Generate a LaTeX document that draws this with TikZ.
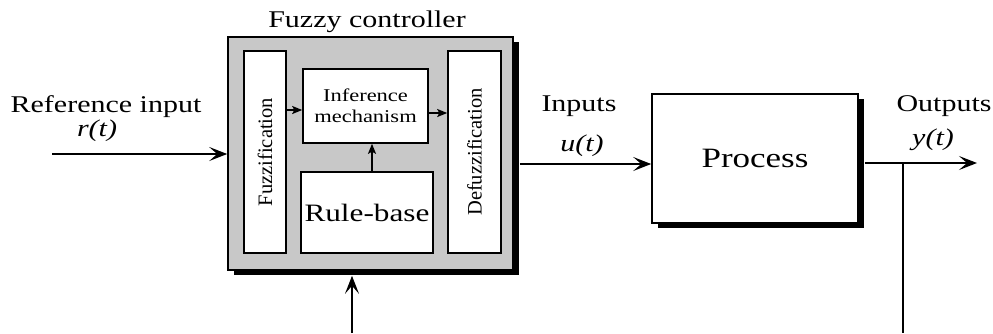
\documentclass[tikz,border=0pt]{standalone}
\usepackage{fontspec}
\setmainfont{Liberation Serif}[FakeStretch=1.25]
\newfontfamily\vfont{Liberation Serif}
\usetikzlibrary{arrows.meta}
\definecolor{ctrlgray}{HTML}{C8C8C8}
\tikzset{
  box/.style={draw, line width=1.6pt, fill=white, inner sep=0pt},
  lbl/.style={inner sep=0pt, font=\fontsize{24}{26}\selectfont},
  vlbl/.style={inner sep=0pt, rotate=90, font=\vfont\fontsize{20.5}{22}\selectfont},
  big/.style={-{Stealth[length=18pt,width=14pt,inset=8pt]}, line width=1.6pt},
  small/.style={-{Stealth[length=10pt,width=8pt,inset=2pt]}, line width=1.6pt},
  wire/.style={line width=1.6pt}
}
\begin{document}
\begin{tikzpicture}[x=1pt,y=-1pt]
\useasboundingbox (0,0) rectangle (993,333);
% shadows
\fill[black] (234,42) rectangle (519,275);
\fill[black] (658,99) rectangle (864,228);
% controller
\node[box, fill=ctrlgray, minimum width=285pt, minimum height=233pt] (ctrl) at (370.5,153.5) {};
\node[box, minimum width=42pt, minimum height=202pt] (fuzz) at (265,152) {};
\node[vlbl] (fuzzt) at (265,152) {Fuzzification};
\node[box, minimum width=125pt, minimum height=74pt, align=center, font=\fontsize{18}{21}\selectfont] (inf) at (365.5,106) {Inference\\mechanism};
\node[box, minimum width=132pt, minimum height=81pt, font=\fontsize{25}{27}\selectfont] (rule) at (367,212.5) {Rule-base};
\node[box, minimum width=53pt, minimum height=202pt] (defuzz) at (474.5,152) {};
\node[vlbl] (defuzzt) at (474.5,152) {Defuzzification};
\node[lbl] (title) at (367,22) {Fuzzy controller};
% process
\node[box, minimum width=206pt, minimum height=129pt, font=\fontsize{28}{30}\selectfont] (proc) at (755,158.5) {Process};
% labels
\node[lbl] (refl) at (106,107) {Reference input};
\node[lbl] (rt) at (97,131) {\textit{r(t)}};
\node[lbl] (inl) at (579,106) {Inputs};
\node[lbl] (ut) at (582,146) {\textit{u(t)}};
\node[lbl] (outl) at (944,106) {Outputs};
\node[lbl] (yt) at (933,140) {\textit{y(t)}};
% coordinates
\coordinate (rin) at (52,154);
\coordinate (fbin) at (352,333);
\coordinate (yout) at (977,163);
\coordinate (tap) at (903,163);
\coordinate (tapend) at (903,333);
% internal arrows
\draw[small] (fuzz.east |- 0,110) -- (inf.west |- 0,110);
\draw[small] (inf.east |- 0,113) -- (defuzz.west |- 0,113);
\draw[small] (rule.north -| 372,0) -- (inf.south -| 372,0);
% external arrows
\draw[big] (rin) -- (ctrl.west |- rin);
\draw[big] (fbin) -- ([yshift=-5pt]ctrl.south -| fbin);
\draw[big] ([xshift=6pt]ctrl.east |- 0,164) -- (proc.west |- 0,164);
\draw[big] ([xshift=6pt]proc.east |- yout) -- (yout);
\draw[wire] (tap) -- (tapend);
\end{tikzpicture}
\end{document}
